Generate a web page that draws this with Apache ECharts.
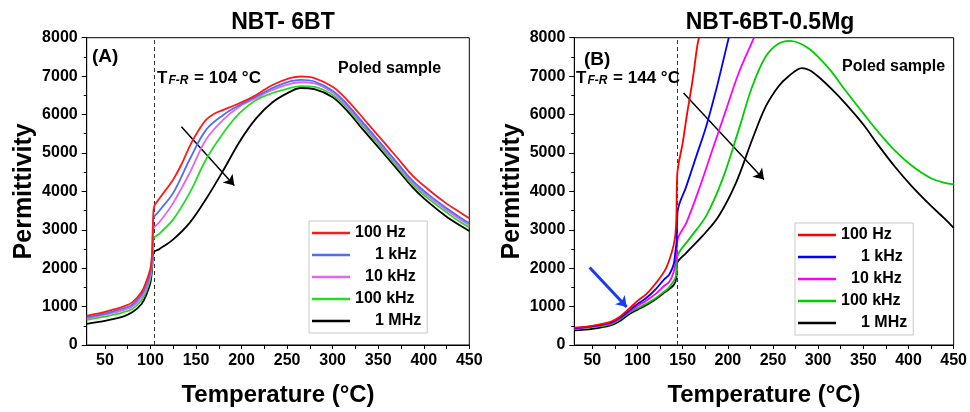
<!DOCTYPE html>
<html><head><meta charset="utf-8">
<script src="https://cdn.jsdelivr.net/npm/echarts@6/dist/echarts.min.js"></script>
<style>html,body{margin:0;padding:0;background:#fff}#c{width:970px;height:412px}</style>
</head><body><div id="c"></div>
<script>
// ---------- DATA ----------
const freqLabels = ['100 Hz', '1 kHz', '10 kHz', '100 kHz', '1 MHz'];
const xTickLabels = [50, 100, 150, 200, 250, 300, 350, 400, 450];
const xMinorTicks = [50, 75, 100, 125, 150, 175, 200, 225, 250, 275, 300, 325, 350, 375, 400, 425, 450];
const titleA = 'NBT- 6BT';
const titleB = 'NBT-6BT-0.5Mg';
const tfrA = 104;
const tfrB = 144;

// Panel A (NBT-6BT) : [temperature, permittivity]
const A_100Hz = [[30,760],[40,810],[50,865],[60,930],[70,1000],[80,1110],[90,1370],[95,1630],[100,2000],[102,2500],[103,3350],[104,3600],[110,3820],[125,4310],[135,4750],[143,5170],[150,5480],[161,5860],[170,6020],[180,6120],[198,6300],[216,6510],[234,6770],[253,6950],[265,6990],[280,6950],[300,6720],[315,6400],[330,6000],[350,5450],[370,4900],[388,4400],[405,4050],[424,3700],[440,3450],[450,3300]];
const A_1kHz = [[30,720],[40,770],[50,820],[60,880],[70,950],[80,1050],[90,1300],[95,1540],[100,1900],[102,2400],[103,3270],[110,3500],[125,3960],[143,4830],[161,5600],[180,5990],[198,6250],[216,6470],[234,6690],[253,6860],[265,6900],[280,6860],[300,6620],[315,6290],[330,5880],[350,5330],[370,4770],[388,4270],[405,3920],[424,3580],[440,3320],[450,3170]];
const A_10kHz = [[30,690],[40,740],[50,790],[60,840],[70,910],[80,1000],[90,1240],[95,1460],[100,1820],[102,2300],[103,3010],[110,3200],[125,3700],[143,4480],[161,5350],[180,5870],[198,6210],[216,6430],[234,6640],[253,6800],[265,6840],[280,6810],[300,6570],[315,6240],[330,5830],[350,5280],[370,4720],[388,4220],[405,3870],[424,3530],[440,3270],[450,3120]];
const A_100kHz = [[30,650],[40,700],[50,740],[60,790],[70,850],[80,940],[90,1160],[95,1380],[100,1740],[102,2200],[103,2750],[110,2900],[125,3270],[143,3960],[161,4830],[180,5520],[198,6040],[216,6380],[234,6560],[253,6690],[265,6740],[280,6720],[300,6510],[315,6190],[330,5780],[350,5230],[370,4670],[388,4170],[405,3810],[424,3470],[440,3200],[450,3060]];
const A_1MHz = [[30,550],[40,590],[50,630],[60,680],[70,740],[80,850],[90,1060],[95,1280],[100,1630],[102,2050],[103,2400],[110,2500],[125,2750],[143,3180],[161,3800],[180,4550],[198,5300],[216,5900],[234,6320],[253,6590],[265,6690],[280,6660],[300,6450],[315,6120],[330,5700],[350,5150],[370,4600],[388,4100],[405,3720],[424,3360],[440,3110],[450,2970]];

// Panel B (NBT-6BT-0.5Mg)
const B_100Hz = [[30,450],[50,500],[70,600],[80,730],[90,930],[100,1150],[110,1330],[120,1600],[130,1930],[135,2200],[140,2600],[142,2900],[143,3300],[143.5,4050],[144.5,4570],[150,5260],[155,6040],[161,6900],[166,7770],[168,8000]];
const B_1kHz = [[30,440],[50,490],[70,580],[80,700],[90,880],[100,1070],[110,1230],[120,1450],[130,1720],[135,1830],[140,2100],[142,2450],[143.3,2700],[144.4,3480],[154,4130],[165,4910],[176,5690],[187,6640],[196,7510],[201,8000]];
const B_10kHz = [[30,430],[50,480],[70,560],[80,680],[90,850],[100,1020],[110,1160],[120,1330],[130,1550],[135,1640],[140,1900],[143,2300],[144.4,2750],[154,3180],[168,4050],[183,5090],[198,6120],[212,7080],[227,7900],[229,8000]];
const B_100kHz = [[30,420],[50,470],[70,540],[80,660],[90,830],[100,960],[110,1080],[120,1220],[130,1400],[135,1500],[142.6,1800],[144.4,2320],[157,2750],[176,3360],[194,4310],[212,5600],[227,6730],[242,7510],[256,7840],[269,7915],[280,7850],[290,7710],[300,7500],[315,7110],[330,6630],[350,6030],[366,5560],[385,5060],[403,4680],[425,4340],[440,4220],[450,4180]];
const B_1MHz = [[30,380],[50,420],[70,510],[80,620],[90,790],[100,920],[110,1040],[120,1190],[130,1370],[140,1560],[143,1750],[143.5,2100],[154,2400],[172,2840],[190,3360],[209,4220],[227,5350],[242,6210],[256,6730],[267,6990],[282,7210],[290,7160],[300,6990],[315,6660],[330,6290],[350,5740],[366,5220],[385,4640],[403,4150],[425,3620],[440,3290],[450,3050]];

// annotation arrows [start, end] in data units
const arrowA = [[134, 5680], [192, 4150]];
const arrowB = [[151, 6560], [240, 4310]];
const blueArrowB = [[47, 2020], [88, 990]];

// ---------- CHART ----------
const FONT = '"Liberation Sans", Arial, Helvetica, sans-serif';
const colorsA = ['#ff1a1a', '#4d6ef5', '#e066f0', '#22dd22', '#000000'];
const colorsB = ['#ff0000', '#0000ff', '#ff00ff', '#00cc00', '#000000'];
const dataA = [A_100Hz, A_1kHz, A_10kHz, A_100kHz, A_1MHz];
const dataB = [B_100Hz, B_1kHz, B_10kHz, B_100kHz, B_1MHz];

const chart = echarts.init(document.getElementById('c'), null, {renderer: 'canvas'});

function xAxisCfg(idx) {
  return {
    type: 'value', gridIndex: idx, min: 30, max: 450,
    name: 'Temperature (°C)', nameLocation: 'middle', nameGap: 38,
    nameTextStyle: {fontFamily: FONT, fontWeight: 'bold', fontSize: 24, color: '#000'},
    axisLine: {show: true, onZero: false, lineStyle: {color: '#000', width: 1}},
    axisTick: {show: true, inside: false, length: 4, customValues: xMinorTicks, lineStyle: {color: '#000'}},
    axisLabel: {customValues: xTickLabels, margin: 8, fontFamily: FONT, fontWeight: 'bold', fontSize: 16, color: '#000'},
    splitLine: {show: false}
  };
}
function yAxisCfg(idx) {
  return {
    type: 'value', gridIndex: idx, min: 0, max: 8000, interval: 1000,
    name: 'Permittivity', nameLocation: 'middle', nameGap: 50, nameRotate: 90,
    nameTextStyle: {fontFamily: FONT, fontWeight: 'bold', fontSize: 25, color: '#000'},
    axisLine: {show: true, onZero: false, lineStyle: {color: '#000', width: 1}},
    axisTick: {show: true, inside: false, length: 5, lineStyle: {color: '#000'}},
    minorTick: {show: true, splitNumber: 2, length: 3, lineStyle: {color: '#000'}},
    axisLabel: {margin: 9, formatter: v => String(v), fontFamily: FONT, fontWeight: 'bold', fontSize: 16, color: '#000'},
    splitLine: {show: false}, minorSplitLine: {show: false}
  };
}

function makeSeries(prefix, data, colors, idx) {
  return data.map((d, i) => ({
    name: prefix + freqLabels[i], type: 'line', xAxisIndex: idx, yAxisIndex: idx,
    data: d, symbol: 'none', showSymbol: false, smooth: 0.35, clip: true,
    lineStyle: {color: colors[i], width: 1.8}, itemStyle: {color: colors[i]},
    z: 10 - i
  }));
}

const seriesA = makeSeries('A ', dataA, colorsA, 0);
const seriesB = makeSeries('B ', dataB, colorsB, 1);

function annotSeries(idx, tfr, arrows) {
  const lines = [
    [{coord: [tfr, 0], symbol: 'none'}, {coord: [tfr, 8000], symbol: 'none',
      lineStyle: {type: [4, 3], color: '#333', width: 1}}]
  ];
  arrows.forEach(a => {
    lines.push([{coord: a.p[0]}, {coord: a.p[1], lineStyle: {color: a.c, width: a.w, type: 'solid'}}]);
  });
  return {
    type: 'line', xAxisIndex: idx, yAxisIndex: idx, data: [], silent: true,
    markLine: {
      silent: true, animation: false, symbol: ['none', 'arrow'], symbolSize: 10,
      label: {show: false},
      lineStyle: {type: [4, 3], color: '#333', width: 1},
      data: lines
    }
  };
}

const padMap = {'100 Hz': 'p0', '1 kHz': 'p20', '10 kHz': 'p10', '100 kHz': 'p0', '1 MHz': 'p20'};
function legendCfg(prefix, left, top) {
  return {
    data: freqLabels.map(f => prefix + f),
    orient: 'vertical', left: left, top: top,
    icon: 'path://M0,0 L40,0 L40,2.4 L0,2.4 Z',
    itemWidth: 38, itemHeight: 2.4, itemGap: 4,
    padding: [3, 6, 3, 3],
    borderColor: '#c8c8c8', borderWidth: 1, backgroundColor: '#fff',
    formatter: name => { const f = name.slice(2); return '{' + padMap[f] + '|' + f + '}'; },
    textStyle: {
      fontFamily: FONT, fontWeight: 'bold', fontSize: 16, color: '#000', lineHeight: 18,
      rich: {
        p0: {fontFamily: FONT, fontWeight: 'bold', fontSize: 16, padding: [0, 0, 0, 0]},
        p10: {fontFamily: FONT, fontWeight: 'bold', fontSize: 16, padding: [0, 0, 0, 10]},
        p20: {fontFamily: FONT, fontWeight: 'bold', fontSize: 16, padding: [0, 0, 0, 20]}
      }
    },
    selectedMode: false
  };
}

function tfrText(x, y, val) {
  return {
    type: 'text', left: x, top: y, z: 100,
    style: {
      text: '{t|T}{s|F-R}{t| = ' + val + ' °C}',
      rich: {
        t: {fontFamily: FONT, fontWeight: 'bold', fontSize: 17, lineHeight: 22, verticalAlign: 'bottom', fill: '#000'},
        s: {fontFamily: FONT, fontWeight: 'bold', fontStyle: 'italic', fontSize: 12, lineHeight: 12, verticalAlign: 'bottom', padding: [0, 1, 0, 1], fill: '#000'}
      }
    }
  };
}
function plainText(x, y, txt, size) {
  return {type: 'text', left: x, top: y, z: 100,
    style: {text: txt, fontFamily: FONT, fontWeight: 'bold', fontSize: size, fill: '#000'}};
}

const option = {
  animation: false,
  backgroundColor: '#fff',
  title: [
    {text: titleA, left: 278, top: 6, textAlign: 'center',
      textStyle: {fontFamily: FONT, fontWeight: 'bold', fontSize: 23, color: '#000'}},
    {text: titleB, left: 765, top: 6, textAlign: 'center',
      textStyle: {fontFamily: FONT, fontWeight: 'bold', fontSize: 23, color: '#000'}}
  ],
  grid: [
    {left: 86.7, top: 37.7, width: 382.6, height: 308.3, show: true, borderColor: '#000', borderWidth: 1, backgroundColor: 'transparent'},
    {left: 574.3, top: 37.7, width: 381.7, height: 308.3, show: true, borderColor: '#000', borderWidth: 1, backgroundColor: 'transparent'}
  ],
  xAxis: [xAxisCfg(0), xAxisCfg(1)],
  yAxis: [yAxisCfg(0), yAxisCfg(1)],
  legend: [legendCfg('A ', 309, 221), legendCfg('B ', 795, 223)],
  series: [
    ...seriesA, ...seriesB,
    annotSeries(0, tfrA, [{p: arrowA, c: '#000', w: 1.5}]),
    annotSeries(1, tfrB, [{p: arrowB, c: '#000', w: 1.5}, {p: blueArrowB, c: '#1a3cf0', w: 3}])
  ],
  graphic: [
    plainText(92, 47, '(A)', 19),
    tfrText(157, 70, tfrA),
    plainText(338, 61, 'Poled sample', 16),
    plainText(584, 50, '(B)', 19),
    tfrText(576, 70, tfrB),
    plainText(842, 59, 'Poled sample', 16)
  ]
};
chart.setOption(option);
</script>
</body></html>
